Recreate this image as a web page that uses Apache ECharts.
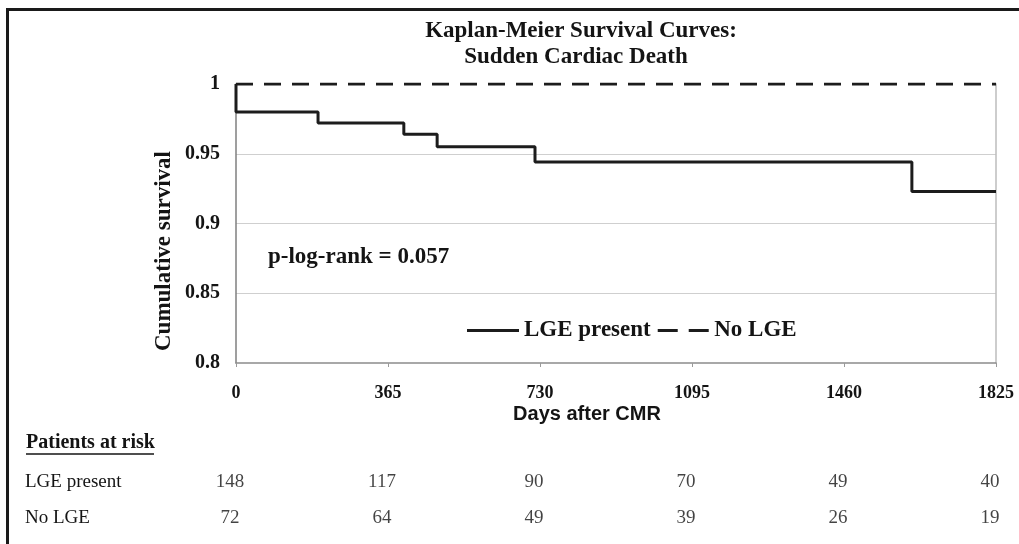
<!DOCTYPE html>
<html>
<head>
<meta charset="utf-8">
<script src="https://cdn.jsdelivr.net/npm/echarts@6/dist/echarts.min.js"></script>
<style>
html,body{margin:0;padding:0;background:#fff;}
#chart{width:1019px;height:544px;}
</style>
</head>
<body>
<div id="chart"></div>
<script>
// ---- data ----
const seriesNames = ['LGE present', 'No LGE'];
const lgeDays = [0, 0, 197, 403, 483, 718, 1623, 1825];
const lgeSurv = [1, 0.98, 0.972, 0.964, 0.955, 0.944, 0.923, 0.923];
const noLgeDays = [0, 1825];
const noLgeSurv = [1, 1];
const xTickDays = [0, 365, 730, 1095, 1460, 1825];
const riskLge = [148, 117, 90, 70, 49, 40];
const riskNoLge = [72, 64, 49, 39, 26, 19];
const titleLines = ['Kaplan-Meier Survival Curves:', 'Sudden Cardiac Death'];
const yName = 'Cumulative survival';
const xName = 'Days after CMR';
const pText = 'p-log-rank = 0.057';
const riskTitle = 'Patients at risk';

const SERIF = '"Liberation Serif", "Times New Roman", serif';
const SANS = '"Liberation Sans", Arial, sans-serif';
const INK = '#141414';

const chart = echarts.init(document.getElementById('chart'), null, {renderer: 'canvas'});

const zip = (a, b) => a.map((v, i) => [v, b[i]]);

function txt(text, x, y, font, align, rot) {
  return {
    type: 'text', x: x, y: y, rotation: rot || 0, silent: true,
    style: {text: text, font: font, fill: INK, align: align, textAlign: align,
            verticalAlign: 'middle', textVerticalAlign: 'middle'}
  };
}

const riskLabel = {
  show: true, position: 'inside', offset: [-6, 0],
  formatter: p => String(p.value[2]),
  fontFamily: SERIF, fontSize: 19, color: INK
};

const option = {
  backgroundColor: '#ffffff',
  animation: false,
  grid: [
    {left: 236, right: 23, top: 84, bottom: 181, containLabel: false},
    {left: 236, right: 23, top: 464, height: 72, containLabel: false}
  ],
  legend: {
    data: [
      {name: seriesNames[0], icon: 'path://M0,0H52V3H0Z'},
      {name: seriesNames[1], icon: 'path://M0,0H20V3H0Z M31,0H51V3H31Z'}
    ],
    left: 462, top: 314,
    itemWidth: 52, itemHeight: 3, itemGap: 7,
    itemStyle: {color: '#1c1c1c'},
    textStyle: {fontFamily: SERIF, fontWeight: 'bold', fontSize: 23, color: INK}
  },
  xAxis: [
    {
      type: 'value', gridIndex: 0, min: 0, max: 1825, interval: 365,
      axisLine: {show: true, lineStyle: {color: '#8c8c8c', width: 1.5}},
      axisTick: {show: true, length: 4, lineStyle: {color: '#9a9a9a'}},
      axisLabel: {fontFamily: SERIF, fontWeight: 'bold', fontSize: 18, color: INK, margin: 21,
                  formatter: v => String(v)},
      splitLine: {show: false}
    },
    {
      type: 'value', gridIndex: 1, min: 0, max: 1825, interval: 365, show: false
    }
  ],
  yAxis: [
    {
      type: 'value', gridIndex: 0, min: 0.8, max: 1, interval: 0.05,
      axisLine: {show: true, lineStyle: {color: '#7f7f7f', width: 1.5}},
      axisTick: {show: false},
      axisLabel: {fontFamily: SERIF, fontWeight: 'bold', fontSize: 20, color: INK, margin: 16,
                  formatter: v => String(+v.toFixed(2))},
      splitLine: {show: true, showMaxLine: false, showMinLine: false,
                  lineStyle: {color: '#cfcfcf', width: 1}}
    },
    {
      type: 'value', gridIndex: 0, position: 'right', min: 0.8, max: 1, interval: 0.05,
      axisLine: {show: true, lineStyle: {color: '#bdbdbd', width: 1.5}},
      axisTick: {show: false}, axisLabel: {show: false}, splitLine: {show: false}
    },
    {
      type: 'category', gridIndex: 1, data: seriesNames, inverse: true,
      axisLine: {show: false}, axisTick: {show: false}, splitLine: {show: false},
      axisLabel: {align: 'left', margin: 211, fontFamily: SERIF, fontSize: 19, color: INK}
    }
  ],
  series: [
    {
      name: seriesNames[0], type: 'line', xAxisIndex: 0, yAxisIndex: 0,
      step: 'end', symbol: 'none', z: 5,
      lineStyle: {color: '#1c1c1c', width: 3, type: 'solid'},
      itemStyle: {color: '#1c1c1c'},
      data: zip(lgeDays, lgeSurv)
    },
    {
      name: seriesNames[1], type: 'line', xAxisIndex: 0, yAxisIndex: 0,
      symbol: 'none', z: 4,
      lineStyle: {color: '#1c1c1c', width: 3, type: [17, 11]},
      itemStyle: {color: '#1c1c1c'},
      data: zip(noLgeDays, noLgeSurv)
    },
    {
      name: 'risk-lge', type: 'scatter', xAxisIndex: 1, yAxisIndex: 2,
      symbolSize: 1, itemStyle: {color: 'transparent'},
      label: riskLabel,
      data: xTickDays.map((d, i) => [d, 0, riskLge[i]])
    },
    {
      name: 'risk-no', type: 'scatter', xAxisIndex: 1, yAxisIndex: 2,
      symbolSize: 1, itemStyle: {color: 'transparent'},
      label: riskLabel,
      data: xTickDays.map((d, i) => [d, 1, riskNoLge[i]])
    }
  ],
  graphic: [
    {type: 'line', silent: true, shape: {x1: 6, y1: 9.5, x2: 1019, y2: 9.5}, style: {stroke: '#1a1a1a', lineWidth: 3}},
    {type: 'line', silent: true, shape: {x1: 7.5, y1: 8, x2: 7.5, y2: 544}, style: {stroke: '#1a1a1a', lineWidth: 3}},
    txt(titleLines[0], 581, 31, 'bold 23px ' + SERIF, 'center'),
    txt(titleLines[1], 576, 57, 'bold 23px ' + SERIF, 'center'),
    txt(yName, 164, 251, 'bold 23px ' + SERIF, 'center', Math.PI / 2),
    txt(pText, 268, 257, 'bold 23px ' + SERIF, 'left'),
    txt(xName, 587, 414, 'bold 20px ' + SANS, 'center'),
    txt(riskTitle, 26, 443, 'bold 20px ' + SERIF, 'left'),
    {type: 'line', silent: true, shape: {x1: 26, y1: 454, x2: 154, y2: 454}, style: {stroke: INK, lineWidth: 1.3}}
  ]
};

chart.setOption(option);
</script>
</body>
</html>
